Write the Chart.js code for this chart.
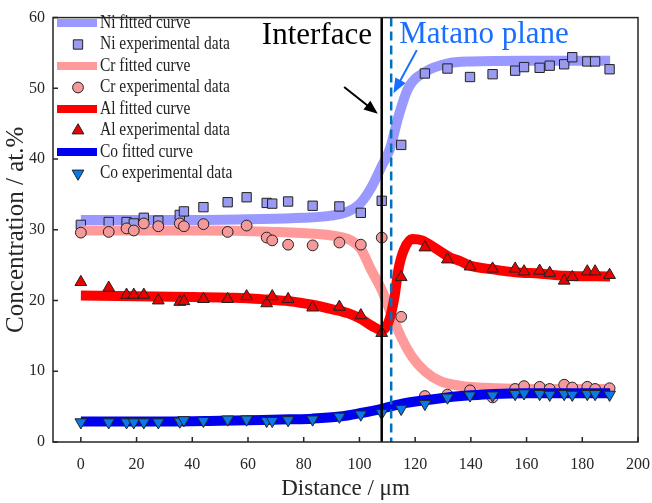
<!DOCTYPE html>
<html>
<head>
<meta charset="utf-8">
<script src="https://cdn.jsdelivr.net/npm/chart.js@4.4.0/dist/chart.umd.min.js"></script>
<style>
  body { margin: 0; background: #fff; }
  #wrap { width: 652px; height: 503px; }
</style>
</head>
<body>
<div id="wrap"><canvas id="myChart" width="652" height="503"></canvas></div>
<script>
// distances of the measured points (um), shared by all four elements
const xExp = [0, 10, 16.4, 19, 22.6, 27.8, 35.5, 37, 44, 52.7, 59.5, 66.7, 68.7, 74.4, 83.2, 92.8, 100.5,
  108, 115, 123.5, 131.6, 139.7, 147.8, 155.9, 159.1, 164.7, 168.3, 173.5, 176.4, 181.8, 184.6, 189.8];

// experimental data (at.%)
const niExp = [30.7, 31.1, 31.1, 30.9, 31.7, 31.3, 32.1, 32.6, 33.2, 33.9, 34.6, 33.8, 33.7, 34.0, 33.4, 33.3, 32.4,
  34.1, 42.0, 52.1, 52.8, 51.6, 52.0, 52.5, 53.0, 52.9, 53.2, 53.4, 54.4, 53.8, 53.8, 52.7];
const crExp = [29.6, 29.7, 30.2, 29.9, 30.9, 30.5, 30.9, 30.5, 30.8, 29.7, 30.6, 28.9, 28.5, 27.9, 27.8, 28.2, 27.9,
  28.9, 17.7, 6.5, 6.7, 7.3, 6.3, 7.5, 7.9, 7.8, 7.5, 8.1, 7.7, 7.8, 7.5, 7.6];
const alExp = [22.6, 21.8, 20.8, 20.8, 20.8, 20.0, 19.8, 19.9, 20.2, 20.2, 20.6, 19.6, 20.6, 20.2, 19.0, 19.1, 17.9,
  15.4, 23.3, 27.5, 25.8, 24.8, 24.5, 24.5, 24.1, 24.2, 23.9, 22.8, 23.3, 24.1, 24.1, 23.6];
const coExp = [2.8, 2.8, 2.8, 2.8, 2.8, 2.8, 2.9, 3.1, 3.0, 3.2, 3.2, 3.0, 3.0, 3.1, 3.2, 3.6, 3.9,
  4.1, 4.7, 5.4, 6.3, 6.6, 6.6, 6.8, 6.9, 6.8, 6.7, 6.8, 6.7, 6.8, 6.8, 6.7];

// fitted curves
const niFitX = [0, 20, 40, 60, 80, 90, 96, 100, 104, 108, 111, 114, 117.5, 123.5, 131.5, 140, 160, 190];
const niFitY = [31.4, 31.4, 31.4, 31.5, 31.7, 32.0, 32.6, 33.6, 35.8, 39.0, 41.5, 46.0, 50.0, 52.3, 53.5, 53.8, 53.9, 53.9];
const crFitX = [0, 40, 70, 85, 93, 97, 100.5, 104, 108, 111, 115, 119, 123.5, 129, 137, 150, 170, 190];
const crFitY = [29.9, 29.9, 29.7, 29.4, 29.0, 28.5, 27.3, 24.5, 21.5, 18.5, 14.8, 12.0, 10.0, 8.6, 7.9, 7.6, 7.5, 7.5];
const alFitX = [0, 20, 40, 55, 65, 75, 83, 90, 96, 100.5, 104.5, 108, 110.5, 112.5, 114, 116, 119, 122.5, 128, 132.5, 136, 140, 148, 156, 165, 173.5, 190];
const alFitY = [20.7, 20.6, 20.5, 20.4, 20.2, 19.9, 19.4, 18.8, 18.2, 17.4, 16.4, 15.8, 17.0, 20.3, 24.4, 27.2, 28.7, 28.5, 27.2, 26.1, 25.6, 24.9, 24.4, 24.0, 23.8, 23.5, 23.4];
const coFitX = [0, 30, 50, 65, 75, 83, 93, 100.5, 108, 115, 123.5, 131.5, 140, 148, 160, 190];
const coFitY = [2.9, 2.9, 3.0, 3.1, 3.2, 3.3, 3.6, 4.1, 4.7, 5.4, 5.9, 6.3, 6.6, 6.8, 6.9, 6.9];

const xTicks = [0, 20, 40, 60, 80, 100, 120, 140, 160, 180, 200];
const interfaceX = 108;
const matanoX = 111.4;

const serif = "'Liberation Serif', 'Times New Roman', serif";
const axisCol = '#262626';

const pts = (xs, ys) => xs.map((x, i) => ({ x: x, y: ys[i] }));

const fitted = (label, xs, ys, color) => ({
  label, data: pts(xs, ys), showLine: true, borderColor: color, backgroundColor: color,
  borderWidth: 10, pointRadius: 0, cubicInterpolationMode: 'monotone', fill: false, isLine: true
});
const measured = (label, ys, style, fill, r, rot) => ({
  label, data: pts(xExp, ys), showLine: false, pointStyle: style, rotation: rot || 0,
  pointRadius: r, backgroundColor: fill, borderColor: '#222', borderWidth: 1
});

const datasets = [
  fitted('Ni fitted curve', niFitX, niFitY, '#9999ff'),
  measured('Ni experimental data', niExp, 'rect', '#9a9af0', 6.6),
  fitted('Cr fitted curve', crFitX, crFitY, '#ff9a9a'),
  measured('Cr experimental data', crExp, 'circle', '#f59a9a', 5.4),
  fitted('Al fitted curve', alFitX, alFitY, '#ff0000'),
  measured('Al experimental data', alExp, 'triangle', '#ee0000', 6.8),
  fitted('Co fitted curve', coFitX, coFitY, '#0000f0'),
  measured('Co experimental data', coExp, 'triangle', '#0a78e6', 6.8, 180)
];
// later datasets on top
datasets.forEach((d, i) => { d.order = -i; });

function arrow(ctx, x1, y1, x2, y2, color, head) {
  const a = Math.atan2(y2 - y1, x2 - x1);
  ctx.save();
  ctx.strokeStyle = color; ctx.fillStyle = color; ctx.lineWidth = 2;
  ctx.beginPath();
  ctx.moveTo(x1, y1);
  ctx.lineTo(x2 - head * 0.8 * Math.cos(a), y2 - head * 0.8 * Math.sin(a));
  ctx.stroke();
  ctx.beginPath();
  ctx.moveTo(x2, y2);
  ctx.lineTo(x2 - head * Math.cos(a - 0.38), y2 - head * Math.sin(a - 0.38));
  ctx.lineTo(x2 - head * Math.cos(a + 0.38), y2 - head * Math.sin(a + 0.38));
  ctx.closePath();
  ctx.fill();
  ctx.restore();
}

// interface / matano lines, labels, frame and legend
const overlay = {
  id: 'overlay',
  afterDatasetsDraw(chart) {
    const { ctx, chartArea: a, scales: { x, y } } = chart;
    ctx.save();
    // interface
    ctx.strokeStyle = '#000'; ctx.lineWidth = 2.5;
    ctx.beginPath(); ctx.moveTo(x.getPixelForValue(interfaceX), a.top); ctx.lineTo(x.getPixelForValue(interfaceX), a.bottom); ctx.stroke();
    // matano plane
    ctx.strokeStyle = '#0072bd'; ctx.setLineDash([9, 5]);
    ctx.beginPath(); ctx.moveTo(x.getPixelForValue(matanoX), a.top); ctx.lineTo(x.getPixelForValue(matanoX), a.bottom); ctx.stroke();
    ctx.setLineDash([]);

    ctx.font = '31px ' + serif;
    ctx.textBaseline = 'alphabetic';
    ctx.fillStyle = '#000'; ctx.textAlign = 'right';
    ctx.fillText('Interface', x.getPixelForValue(104.5), y.getPixelForValue(56.2));
    ctx.fillStyle = '#1a6eff'; ctx.textAlign = 'left';
    ctx.fillText('Matano plane', x.getPixelForValue(114.3), y.getPixelForValue(56.4));
    arrow(ctx, x.getPixelForValue(94.5), y.getPixelForValue(50.2), x.getPixelForValue(106.6), y.getPixelForValue(46.4), '#000', 15);
    arrow(ctx, x.getPixelForValue(120.6), y.getPixelForValue(55.4), x.getPixelForValue(112.2), y.getPixelForValue(49.3), '#1a6eff', 16);
    ctx.restore();
  },
  afterDraw(chart) {
    const { ctx, chartArea: a, scales: { x, y } } = chart;
    ctx.save();
    // frame
    ctx.strokeStyle = axisCol; ctx.lineWidth = 1.5;
    ctx.strokeRect(a.left, a.top, a.right - a.left, a.bottom - a.top);
    // inward ticks
    ctx.beginPath();
    x.ticks.forEach(t => { const px = x.getPixelForValue(t.value); ctx.moveTo(px, a.bottom); ctx.lineTo(px, a.bottom - 5); });
    y.ticks.forEach(t => { const py = y.getPixelForValue(t.value); ctx.moveTo(a.left, py); ctx.lineTo(a.left + 5, py); });
    ctx.stroke();

    // legend
    ctx.textBaseline = 'middle'; ctx.textAlign = 'left';
    chart.data.datasets.forEach((d, i) => {
      const cy = 23 + i * 21.5;
      if (d.isLine) {
        ctx.strokeStyle = d.borderColor; ctx.lineWidth = 8;
        ctx.beginPath(); ctx.moveTo(57, cy); ctx.lineTo(97, cy); ctx.stroke();
      } else {
        ctx.fillStyle = d.backgroundColor; ctx.strokeStyle = d.borderColor; ctx.lineWidth = 1;
        Chart.helpers.drawPoint(ctx, { pointStyle: d.pointStyle, rotation: d.rotation, radius: d.pointRadius, borderWidth: 1 }, 78, cy);
      }
      ctx.fillStyle = '#222';
      ctx.font = '18px ' + serif;
      ctx.save(); ctx.translate(100, cy); ctx.scale(0.86, 1); ctx.fillText(d.label, 0, 0); ctx.restore();
    });
    ctx.restore();
  }
};

new Chart(document.getElementById('myChart'), {
  type: 'scatter',
  data: { datasets },
  options: {
    responsive: false,
    animation: false,
    layout: { padding: { top: 12, right: 14, left: 0, bottom: 0 } },
    plugins: { legend: { display: false }, tooltip: { enabled: false } },
    scales: {
      x: {
        type: 'linear', min: -10, max: 200,
        afterBuildTicks: s => { s.ticks = xTicks.map(v => ({ value: v })); },
        afterFit: s => { s.height = 61; },
        // tick marks are drawn inward by the overlay; tickLength only spaces the labels
        grid: { display: false, drawTicks: true, tickLength: 11 },
        border: { display: false },
        ticks: { color: axisCol, font: { family: serif, size: 16 }, padding: 2, maxRotation: 0 },
        title: { display: true, text: 'Distance / μm', color: axisCol, font: { family: serif, size: 23 }, padding: { top: 0, bottom: 0 } }
      },
      y: {
        min: 0, max: 60,
        afterFit: s => { s.width = 53; },
        grid: { display: false, drawTicks: false },
        border: { display: false },
        ticks: { stepSize: 10, color: axisCol, font: { family: serif, size: 16 }, padding: 8 },
        title: { display: true, text: 'Concentration / at.%', color: axisCol, font: { family: serif, size: 25 }, padding: { top: 1, bottom: 0 } }
      }
    }
  },
  plugins: [overlay]
});
</script>
</body>
</html>
